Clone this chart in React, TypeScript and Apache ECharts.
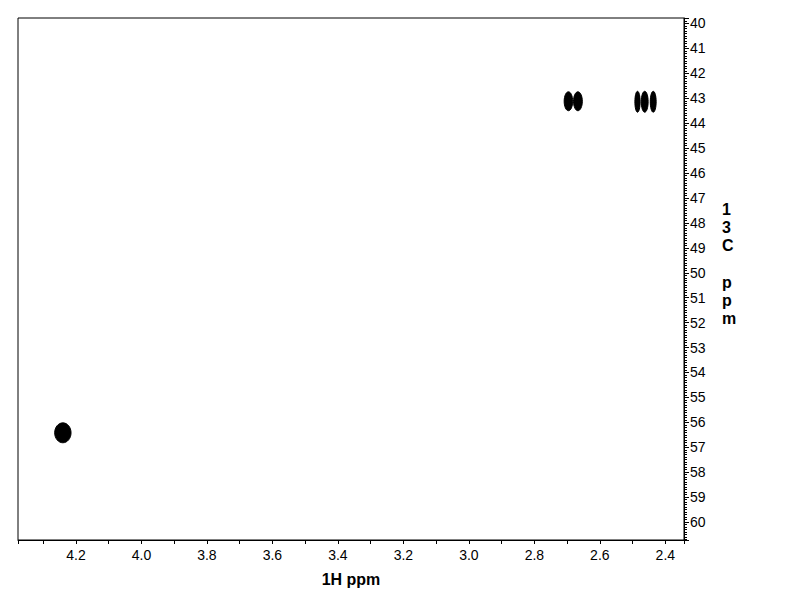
import React, { useEffect, useRef } from "react";
import * as echarts from "echarts";

// Peak centres (1H ppm, 13C ppm) and contour extents (ppm)
const peakH = [4.240, 2.696, 2.667, 2.485, 2.463, 2.437];
const peakC = [56.42, 43.12, 43.12, 43.14, 43.14, 43.14];
const peakWidthH = [0.050, 0.026, 0.027, 0.016, 0.021, 0.018];
const peakHeightC = [0.80, 0.76, 0.76, 0.84, 0.84, 0.84];

const xRange = [2.343, 4.377];
const yRange = [39.78, 60.72];
const xName = "1H ppm";
const yNameChars = ["1", "3", "C", "", "p", "p", "m"];

export default function App() {
  const ref = useRef<HTMLDivElement>(null);
  useEffect(() => {
    if (!ref.current) return;
    const chart = echarts.init(ref.current, null, { renderer: "svg" });
    const data = peakH.map((h, i) => [h, peakC[i], peakWidthH[i], peakHeightC[i]]);
    const font = "'Liberation Sans', Arial, sans-serif";
    chart.setOption({
      animation: false,
      backgroundColor: "#fff",
      grid: {
        left: 18,
        right: 108,
        top: 18,
        bottom: 72,
        show: true,
        borderColor: "#000",
        borderWidth: 1,
        containLabel: false,
      },
      xAxis: {
        type: "value",
        inverse: true,
        min: xRange[0],
        max: xRange[1],
        minInterval: 0.2,
        maxInterval: 0.2,
        splitNumber: 10,
        name: xName,
        nameLocation: "middle",
        nameGap: 31,
        nameTextStyle: { color: "#000", fontSize: 16, fontWeight: "bold", fontFamily: font },
        axisLine: { show: true, onZero: false, lineStyle: { color: "#000", width: 1 } },
        axisTick: { show: true, length: 4, lineStyle: { color: "#000" } },
        minorTick: { show: true, splitNumber: 2, length: 4, lineStyle: { color: "#000" } },
        splitLine: { show: false },
        axisLabel: {
          color: "#000",
          fontSize: 14,
          fontFamily: font,
          margin: 8,
          showMinLabel: false,
          showMaxLabel: false,
          formatter: (v: number) => v.toFixed(1),
        },
      },
      yAxis: {
        type: "value",
        position: "right",
        inverse: true,
        min: yRange[0],
        max: yRange[1],
        minInterval: 1,
        maxInterval: 1,
        splitNumber: 20,
        axisLine: { show: true, onZero: false, lineStyle: { color: "#000", width: 1 } },
        axisTick: { show: true, length: 5, lineStyle: { color: "#000" } },
        minorTick: { show: true, splitNumber: 10, length: 3, lineStyle: { color: "#000" } },
        splitLine: { show: false },
        axisLabel: {
          color: "#000",
          fontSize: 14,
          fontFamily: font,
          margin: 6,
          showMinLabel: false,
          showMaxLabel: false,
        },
      },
      series: [
        {
          type: "custom",
          data,
          clip: true,
          renderItem: (params: any, api: any) => {
            const c = api.coord([api.value(0), api.value(1)]);
            const s = api.size([api.value(2), api.value(3)]);
            const rx = Math.abs(s[0]) / 2;
            const ry = Math.abs(s[1]) / 2;
            const children: any[] = [
              {
                type: "ellipse",
                shape: { cx: c[0], cy: c[1], rx, ry },
                style: { fill: "#000", stroke: "#000", lineWidth: 1 },
              },
            ];
            const levels = 3;
            for (let k = 1; k <= levels; k++) {
              const f = 1 - k / (levels + 1.5);
              children.push({
                type: "ellipse",
                shape: { cx: c[0], cy: c[1], rx: rx * f, ry: ry * f },
                style: { fill: "none", stroke: "#000", lineWidth: 1 },
              });
            }
            return { type: "group", children };
          },
        },
      ],
      graphic: [
        {
          type: "text",
          left: 722,
          top: 200,
          style: {
            text: yNameChars.join("\n"),
            fill: "#000",
            font: `bold 16px ${font}`,
            lineHeight: 18.3,
            align: "center",
            width: 16,
          },
        },
      ],
    });
    return () => chart.dispose();
  }, []);
  return (
    <div
      ref={ref}
      style={{ position: "absolute", left: 0, top: 0, width: 792, height: 612 }}
    />
  );
}
